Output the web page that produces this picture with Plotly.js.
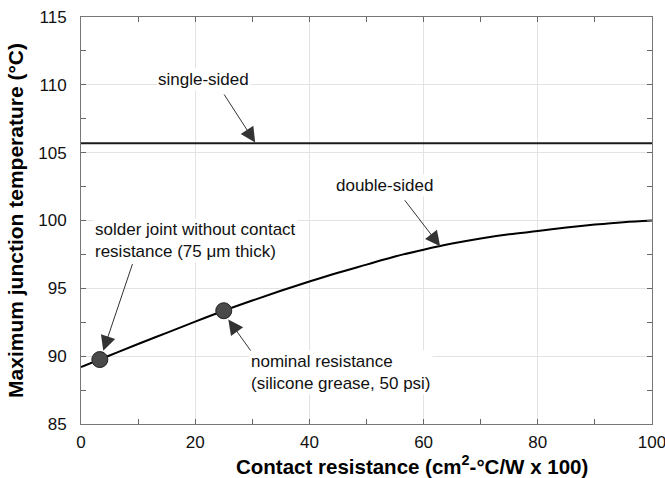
<!DOCTYPE html>
<html>
<head>
<meta charset="utf-8">
<script src="https://cdn.plot.ly/plotly-3.0.1.min.js"></script>
<style>html,body{margin:0;padding:0;background:#fff;}#chart{width:665px;height:478px;}</style>
</head>
<body>
<div id="chart"></div>
<script>
// Data
const resistance = [0, 5, 10, 15, 20, 25, 30, 35, 40, 45, 50, 55, 60, 65, 70, 75, 80, 85, 90, 95, 100];
const doubleSided = [89.2, 90.05, 90.9, 91.72, 92.55, 93.35, 94.1, 94.82, 95.5, 96.15, 96.75, 97.35, 97.85, 98.3, 98.68, 98.98, 99.22, 99.48, 99.7, 99.88, 100.0];
const singleSidedX = [0, 100];
const singleSidedY = [105.7, 105.7];
const pointX = [3.3, 25];
const pointY = [89.75, 93.35];

const xTicks = [0, 20, 40, 60, 80, 100];
const yTicks = [85, 90, 95, 100, 105, 110, 115];

const xTitle = 'Contact resistance (cm<sup>2</sup>-°C/W x 100)';
const yTitle = 'Maximum junction temperature (°C)';

const font = 'Liberation Sans, Arial, sans-serif';

const traces = [
  {x: singleSidedX, y: singleSidedY, mode: 'lines', line: {color: '#1a1a1a', width: 2}, hoverinfo: 'skip'},
  {x: resistance, y: doubleSided, mode: 'lines', line: {color: '#000', width: 2, shape: 'spline'}, hoverinfo: 'skip'},
  {x: pointX, y: pointY, mode: 'markers', marker: {size: 16, color: '#4a4a4a', line: {color: '#222', width: 1}}, hoverinfo: 'skip'}
];

function arrow(tx, ty, hx, hy) {
  return {x: hx, y: hy, ax: tx, ay: ty, xref: 'x', yref: 'y', axref: 'x', ayref: 'y',
    text: '', showarrow: true, arrowhead: 2, arrowsize: 3, arrowwidth: 1, arrowcolor: '#333', standoff: 0};
}
function label(x, y, text, xanchor) {
  return {x: x, y: y, xref: 'x', yref: 'y', text: text, showarrow: false, xanchor: xanchor || 'center',
    yanchor: 'middle', align: 'left', bgcolor: '#fff', font: {family: font, size: 17, color: '#111'}};
}

const layout = {
  width: 665, height: 478,
  margin: {l: 81, r: 13, t: 17, b: 54},
  paper_bgcolor: '#fff', plot_bgcolor: '#fff',
  showlegend: false,
  font: {family: font, color: '#000'},
  xaxis: {
    range: [0, 100], tickvals: xTicks, ticks: 'inside', ticklen: 5, tickcolor: '#666',
    showline: true, linecolor: '#777', linewidth: 1, mirror: 'ticks',
    showgrid: true, gridcolor: '#e3e3e3', gridwidth: 1, zeroline: false,
    minor: {dtick: 10, ticks: 'inside', ticklen: 5, tickcolor: '#666', showgrid: false},
    tickfont: {family: font, size: 17, color: '#111'}, ticklabeloverflow: 'allow', ticklabelstandoff: 3
  },
  yaxis: {
    range: [85, 115], tickvals: yTicks, ticks: 'inside', ticklen: 5, tickcolor: '#666',
    showline: true, linecolor: '#777', linewidth: 1, mirror: 'ticks',
    showgrid: true, gridcolor: '#e3e3e3', gridwidth: 1, zeroline: false,
    minor: {dtick: 2.5, ticks: 'inside', ticklen: 5, tickcolor: '#666', showgrid: false},
    tickfont: {family: font, size: 17, color: '#111'}, ticklabeloverflow: 'allow', ticklabelstandoff: 10,
    title: {text: yTitle, font: {family: font, size: 21, color: '#000', weight: 'bold'}, standoff: 8}
  },
  annotations: [
    {x: 0.579, y: -0.1, xref: 'paper', yref: 'paper', xanchor: 'center', yanchor: 'middle', showarrow: false,
     text: xTitle, font: {family: font, size: 20.5, color: '#000', weight: 'bold'}},
    label(21.5, 110.4, 'single-sided'),
    arrow(24.9, 109.4, 30.5, 105.75),
    label(53.1, 102.6, 'double-sided'),
    arrow(56.5, 101.6, 62.9, 98.1),
    label(2.1, 98.5, 'solder joint without contact<br>resistance (75 μm thick)', 'left'),
    arrow(9.1, 96.9, 3.9, 90.4),
    label(29.5, 88.8, 'nominal resistance<br>(silicone grease, 50 psi)', 'left'),
    arrow(29.9, 90.3, 25.8, 92.7)
  ]
};

Plotly.newPlot('chart', traces, layout, {displayModeBar: false, staticPlot: true});
</script>
</body>
</html>
